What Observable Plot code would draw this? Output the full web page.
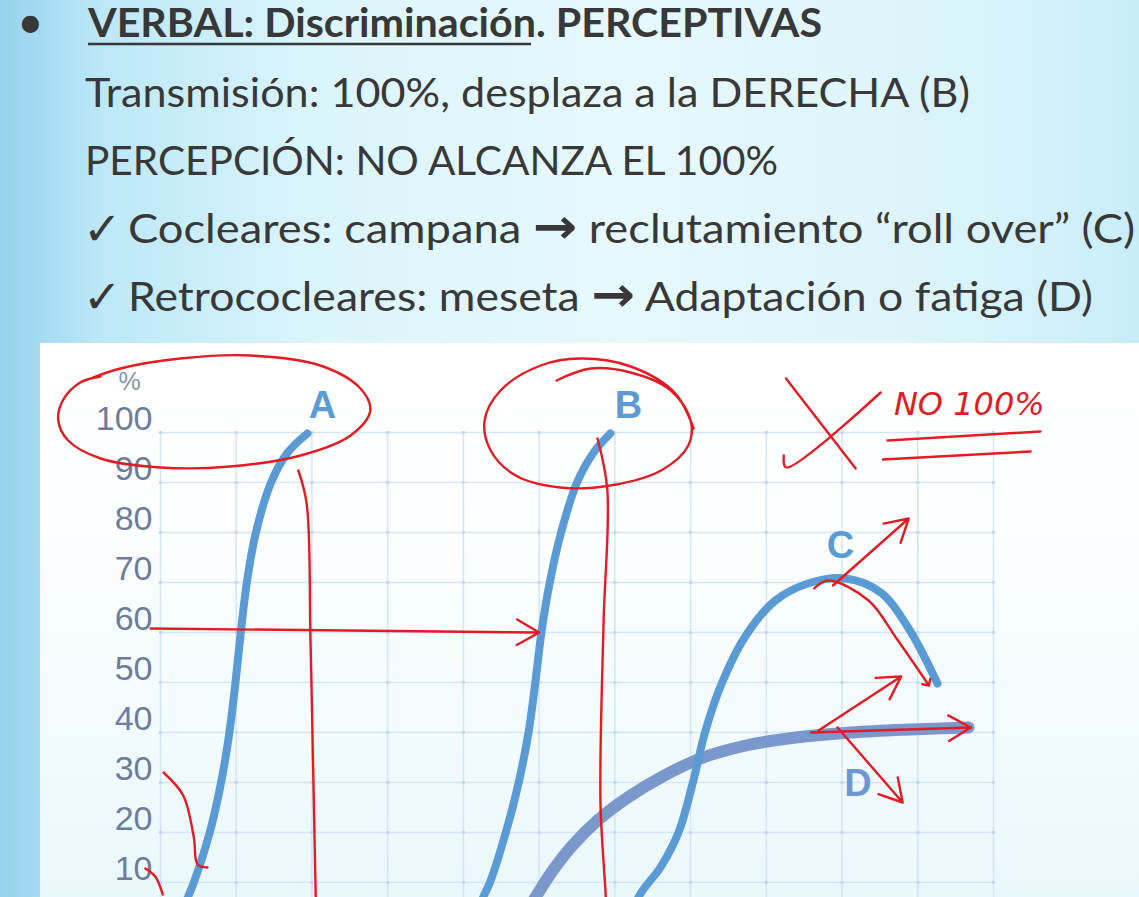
<!DOCTYPE html>
<html><head><meta charset="utf-8">
<script src="https://cdn.jsdelivr.net/npm/d3@7"></script>
<script src="https://cdn.jsdelivr.net/npm/@observablehq/plot@0.6"></script>
<style>
html,body{margin:0;padding:0;width:1139px;height:897px;overflow:hidden;}
body{position:relative;background:linear-gradient(90deg,#96d3ee 0%,#bde8f8 9%,#dbf5fc 28%,#e7f9fd 55%,#daf4fb 85%,#c8edf9 100%);}
#header{position:absolute;left:0;top:0;}
#panel{position:absolute;left:40px;top:343px;width:1099px;height:554px;overflow:hidden;background:linear-gradient(180deg,#ffffff 0%,#fcfeff 35%,#e9f8fc 100%);}
#panel svg{position:absolute;left:0;top:0;}
</style></head>
<body>
<svg id="header" width="1139" height="343" font-family="Lato, 'Open Sans', sans-serif" fill="#383838">
  <text x="17" y="38" font-size="46">•</text>
  <text x="88" y="37" font-size="41" font-weight="700" textLength="734" lengthAdjust="spacingAndGlyphs">VERBAL: Discriminación. PERCEPTIVAS</text>
  <line x1="88" x2="531" y1="44" y2="44" stroke="#383838" stroke-width="2.5"/>
  <text x="85" y="107" font-size="41" textLength="885" lengthAdjust="spacingAndGlyphs">Transmisión: 100%, desplaza a la DERECHA (B)</text>
  <text x="85" y="175" font-size="41" textLength="693" lengthAdjust="spacingAndGlyphs">PERCEPCIÓN: NO ALCANZA EL 100%</text>
  <text x="83" y="245" font-size="46" font-family="DejaVu Sans">✓</text>
  <text x="128" y="243" font-size="41" textLength="1007" lengthAdjust="spacingAndGlyphs">Cocleares: campana <tspan font-family="DejaVu Sans" font-weight="bold" font-size="48">→</tspan> reclutamiento “roll over” (C)</text>
  <text x="83" y="313" font-size="46" font-family="DejaVu Sans">✓</text>
  <text x="128" y="311" font-size="41" textLength="965" lengthAdjust="spacingAndGlyphs">Retrococleares: meseta <tspan font-family="DejaVu Sans" font-weight="bold" font-size="48">→</tspan> Adaptación o fatiga (D)</text>
</svg>
<div id="panel"></div>
<script>
// ---- axes / grid (x: intensity dB, y: % discrimination) ----
const xGrid = [0, 10, 20, 30, 40, 50, 60, 70, 80, 90, 100, 110];
const yGrid = [0, 10, 20, 30, 40, 50, 60, 70, 80, 90, 100];
const yTicks = [10, 20, 30, 40, 50, 60, 70, 80, 90, 100];
const yUnit = "%";

// ---- curves ----
const curveA_x = [1.8, 3.6, 4.4, 6.5, 8.0, 9.1, 9.9, 10.6, 11.4, 12.6, 14.6, 16.8, 19.4];
const curveA_y = [0, 7, 10, 20, 30, 40, 50, 60, 70, 80, 90, 96, 99.8];
const curveB_x = [41.0, 42.6, 43.5, 45.6, 47.3, 48.6, 49.5, 50.3, 51.4, 52.9, 55.0, 57.2, 59.4];
const curveB_y = [0, 7, 10, 20, 30, 40, 50, 60, 70, 80, 90, 96, 99.8];
const curveC_x = [61.8, 63.1, 66.1, 68.4, 70.3, 71.9, 74.0, 77.3, 81.2, 85.9, 90.5, 95.1, 98.8, 102.6];
const curveC_y = [0, 7, 13.2, 20, 30, 40, 49.4, 59.4, 66.4, 70, 70.8, 68, 60.8, 49.8];
const curveD_x = [47.3, 49.5, 51.8, 54.4, 57.7, 61.7, 66.3, 71.3, 77.3, 83.9, 91.2, 99.1, 106.7];
const curveD_y = [1.4, 7, 12.4, 17.4, 22.4, 27, 31.2, 34.8, 37.4, 39, 40, 40.6, 41];

const curveLabels = ["A", "B", "C", "D"];
const labelX = [21.4, 61.8, 89.8, 92.1];
const labelY = [105.4, 105.4, 77.4, 29.8];

// ---- hand-drawn red annotations (data units) ----
const ringA = [[-7.9,111.2],[-10.6,110],[-12.9,106.4],[-13.5,102.4],[-12.2,98.4],[-7.9,94.8],[0,93],[9.2,93.2],[18.5,95.4],[25.1,99.4],[27.7,104.4],[26.4,108.8],[21.1,113.4],[11.9,115.4],[2.6,114.8],[-5.3,112.8],[-9.9,110.4]];
const ringB = [[52.3,110.4],[56.8,112.8],[62.1,112],[67.4,108.4],[70.0,102.4],[69.7,97.4],[66.1,92.4],[59.4,89.4],[52.8,89],[46.9,91.4],[43.6,96.4],[42.8,102.4],[44.9,108.4],[50.2,113.4],[55.5,114.8],[62.1,113.2],[68.0,107.8],[70.4,100.8]];
const lineDownA = [[18.2,92.4],[19.3,85.8],[19.8,58.8],[20.2,29.6],[20.5,7],[20.6,0]];
const lineDownB = [[57.7,98.8],[59.0,88.6],[58.5,61.6],[58.1,26],[58.8,7],[58.9,0]];
const crossStroke1 = [[82.6,110.8],[91.8,92.8]];
const crossStroke2 = [[95.1,108],[82.6,93],[82.3,95.4]];
const underline1 = [[96.0,98.4],[116.2,100.2]];
const underline2 = [[95.4,94.6],[114.9,96.2]];
const squiggle = [[0.4,32],[3.0,27.4],[4.4,19],[4.9,13.6],[6.2,13]];
const hook10 = [[-2.0,12.8],[-0.7,11.2],[0.3,7.6]];
const rollOver = [[86.3,68.8],[88.2,70.4],[93.5,66.4],[97.1,59],[101.3,49.8]];
const arrowsFrom_x = [-1.3, 88.8, 86.9, 85.9, 89.4];
const arrowsFrom_y = [60.8, 69.4, 40.4, 40.0, 41.0];
const arrowsTo_x   = [50.0, 98.8, 97.8, 107.0, 98.0];
const arrowsTo_y   = [60.0, 82.8, 51.2, 41.0, 26.0];
const noteText = ["NO 100%"];
const noteX = [106.8];
const noteY = [105.6];

// ---- build tables ----
const toRows = (name, xs, ys) => xs.map((x, i) => ({curve: name, x, y: ys[i]}));
const blueCurves = [...toRows("A", curveA_x, curveA_y), ...toRows("B", curveB_x, curveB_y), ...toRows("C", curveC_x, curveC_y)];
const greyCurve = toRows("D", curveD_x, curveD_y);
const labels = curveLabels.map((t, i) => ({t, x: labelX[i], y: labelY[i]}));
const redPaths = [["ringA", ringA],["ringB", ringB],["dA", lineDownA],["dB", lineDownB],["x1", crossStroke1],["x2", crossStroke2],["u1", underline1],["u2", underline2],["sq", squiggle],["hk", hook10]]
  .flatMap(([k, pts]) => pts.map(p => ({k, x: p[0], y: p[1]})));
const arrows = arrowsFrom_x.map((x1, i) => ({x1, y1: arrowsFrom_y[i], x2: arrowsTo_x[i], y2: arrowsTo_y[i]}));
const notes = noteText.map((t, i) => ({t, x: noteX[i], y: noteY[i]}));
const crossings = d3.cross(xGrid, yGrid).map(([x, y]) => ({x, y}));

const RED = "#e31b23";
const FONT = "'Liberation Sans', Arial, sans-serif";
const chart = Plot.plot({
  width: 1099, height: 620,
  marginLeft: 120, marginRight: 146, marginTop: 89, marginBottom: 31,
  x: {domain: [0, 110], axis: null},
  y: {domain: [0, 100], axis: null},
  style: {background: "transparent", overflow: "visible"},
  marks: [
    Plot.ruleX(xGrid, {y1: 0, y2: 100, stroke: "#d5e5f4", strokeWidth: 1.5}),
    Plot.ruleY(yGrid, {x1: 0, x2: 110, stroke: "#d5e5f4", strokeWidth: 1.5}),
    Plot.dot(crossings, {x: "x", y: "y", r: 1.8, fill: "#c3d6ed"}),
    Plot.text(yTicks, {x: 0, y: d => d, text: d => String(d), textAnchor: "end", dx: -8, dy: -13,
      fontSize: 34, fill: "#6d7d99", fontFamily: FONT}),
    Plot.text([yUnit], {frameAnchor: "top-left", text: d => d, textAnchor: "middle", lineAnchor: "middle",
      dx: -31, dy: -51, fontSize: 25, fill: "#8593ab", fontFamily: FONT}),
    Plot.line(greyCurve, {x: "x", y: "y", stroke: "#7b98cc", strokeWidth: 12, curve: "catmull-rom", strokeLinecap: "round"}),
    Plot.line(blueCurves, {x: "x", y: "y", z: "curve", stroke: "#5b9bd5", strokeWidth: 8, curve: "catmull-rom", strokeLinecap: "round"}),
    Plot.text(labels, {x: "x", y: "y", text: "t", fontSize: 38, fontWeight: "bold",
      fill: d => d.t === "D" ? "#6f97cf" : "#5b9bd5", fontFamily: FONT}),
    Plot.line(redPaths, {x: "x", y: "y", z: "k", stroke: RED, strokeWidth: 2.4, curve: "catmull-rom", strokeLinecap: "round"}),
    Plot.line(rollOver.map(p => ({x: p[0], y: p[1]})), {x: "x", y: "y", stroke: RED, strokeWidth: 2.4, curve: "catmull-rom", markerEnd: "arrow"}),
    Plot.arrow(arrows, {x1: "x1", y1: "y1", x2: "x2", y2: "y2", stroke: RED, strokeWidth: 2.4, headLength: 16}),
    Plot.text(notes, {x: "x", y: "y", text: "t", fontSize: 32, fill: RED, fontStyle: "italic",
      fontFamily: "'DejaVu Sans', sans-serif", fontWeight: "300"})
  ]
});
document.getElementById("panel").appendChild(chart);
</script>
</body></html>
